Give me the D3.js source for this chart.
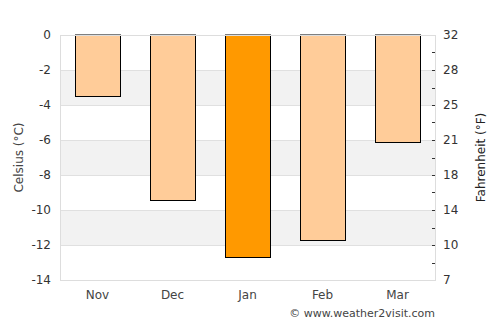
<!DOCTYPE html>
<html>
<head>
<meta charset="utf-8">
<script src="https://cdn.jsdelivr.net/npm/d3@7"></script>
<style>
  body { margin: 0; background: #fff; }
  text { font-family: "DejaVu Sans", sans-serif; }
</style>
</head>
<body>
<svg width="500" height="325"></svg>
<script>
var months = ["Nov", "Dec", "Jan", "Feb", "Mar"];
var celsius = [-3.5, -9.4, -12.7, -11.7, -6.1];
var highlight = ["Jan"];
var cTicks = [0, -2, -4, -6, -8, -10, -12, -14];

(function() {
    var svg = d3.select("svg"),
        plotLeft = 60, plotRight = 435, plotTop = 35, plotBottom = 280;

    var x = d3.scaleBand().domain(months).range([plotLeft, plotRight]).paddingInner(0.4).paddingOuter(0.2);
    var y = d3.scaleLinear().domain([0, -14]).range([plotTop, plotBottom]);
    var toF = function(c) { return c * 9 / 5 + 32; };

    // alternating bands
    var bands = d3.range(0, 7).map(function(i) { return [-2 * i, -2 * i - 2]; });
    svg.append("g").selectAll("rect")
        .data(bands)
        .enter().append("rect")
        .attr("x", plotLeft)
        .attr("width", plotRight - plotLeft)
        .attr("y", function(d) { return y(d[0]); })
        .attr("height", function(d) { return y(d[1]) - y(d[0]); })
        .attr("fill", function(d, i) { return i % 2 ? "#f2f2f2" : "#fff"; });

    // gridlines
    svg.append("g").selectAll("line")
        .data(cTicks.slice(1, -1))
        .enter().append("line")
        .attr("x1", plotLeft).attr("x2", plotRight)
        .attr("y1", function(d) { return Math.round(y(d)) + 0.5; })
        .attr("y2", function(d) { return Math.round(y(d)) + 0.5; })
        .attr("stroke", "#e0e0e0");

    // bars
    svg.append("g").selectAll("rect")
        .data(months)
        .enter().append("rect")
        .attr("x", function(d) { return Math.round(x(d)) + 0.5; })
        .attr("y", y(0))
        .attr("width", Math.round(x.bandwidth()))
        .attr("height", function(d, i) { return Math.round(y(celsius[i]) - y(0)) + 0.5; })
        .attr("fill", function(d) { return highlight.indexOf(d) >= 0 ? "#ff9900" : "#ffcc99"; })
        .attr("stroke", "#000")
        .attr("stroke-width", 1);

    // right-side ticks (inside)
    svg.append("g").selectAll("line")
        .data(d3.range(-1, -14, -1))
        .enter().append("line")
        .attr("x1", plotRight - 3).attr("x2", plotRight)
        .attr("y1", function(d) { return Math.round(y(d)) + 0.5; })
        .attr("y2", function(d) { return Math.round(y(d)) + 0.5; })
        .attr("stroke", "#333");

    // frame
    svg.append("rect")
        .attr("x", plotLeft + 0.5).attr("y", plotTop + 0.5)
        .attr("width", plotRight - plotLeft).attr("height", plotBottom - plotTop)
        .attr("fill", "none")
        .attr("stroke", "#ddd");

    // left axis labels
    svg.append("g").selectAll("text")
        .data(cTicks)
        .enter().append("text")
        .attr("x", 51)
        .attr("y", function(d) { return y(d); })
        .attr("dy", "0.35em")
        .attr("text-anchor", "end")
        .attr("font-size", 12)
        .attr("fill", "#333")
        .text(function(d) { return d; });

    // right axis labels
    svg.append("g").selectAll("text")
        .data(cTicks)
        .enter().append("text")
        .attr("x", 443)
        .attr("y", function(d) { return y(d); })
        .attr("dy", "0.35em")
        .attr("font-size", 12)
        .attr("fill", "#333")
        .text(function(d) { return Math.round(toF(d)); });

    // x labels
    svg.append("g").selectAll("text")
        .data(months)
        .enter().append("text")
        .attr("x", function(d) { return x(d) + x.bandwidth() / 2; })
        .attr("y", 299)
        .attr("text-anchor", "middle")
        .attr("font-size", 12)
        .attr("fill", "#444")
        .text(function(d) { return d; });

    // axis titles
    svg.append("text")
        .attr("transform", "translate(23," + (plotTop + plotBottom) / 2 + ") rotate(-90)")
        .attr("text-anchor", "middle")
        .attr("font-size", 12)
        .attr("fill", "#444")
        .text("Celsius (°C)");

    svg.append("text")
        .attr("transform", "translate(485," + (plotTop + plotBottom) / 2 + ") rotate(-90)")
        .attr("text-anchor", "middle")
        .attr("font-size", 12)
        .attr("fill", "#222")
        .text("Fahrenheit (°F)");

    svg.append("text")
        .attr("x", 435).attr("y", 317)
        .attr("text-anchor", "end")
        .attr("font-size", 11)
        .attr("fill", "#444")
        .text("© www.weather2visit.com");
})();
</script>
</body>
</html>
